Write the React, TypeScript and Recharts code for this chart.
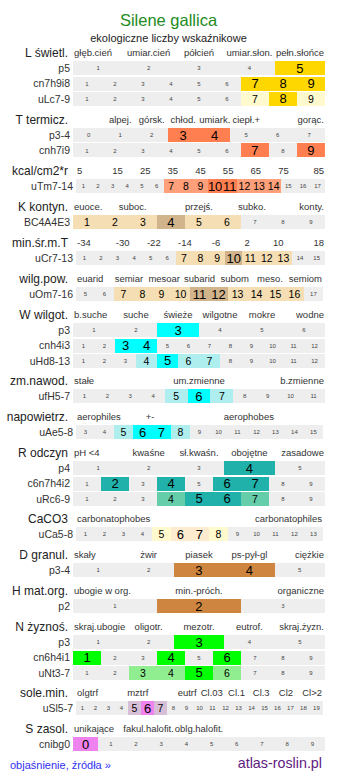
import React from 'react';
import { BarChart, Bar, XAxis, YAxis } from 'recharts';

// level per cell: 0 = not set, 1 = weaker, 2 = main value

// L - light
const lightHead = ['głęb.cień', 'umiar.cień', 'półcień', 'umiar.słon.', 'pełn.słońce'];
const lightRows = ['p5', 'cn7h9i8', 'uLc7-9'];
const lightFrom = [1, 1, 1];
const lightLevels = [
  [0, 0, 0, 0, 2],
  [0, 0, 0, 0, 0, 0, 2, 2, 2],
  [0, 0, 0, 0, 0, 0, 1, 2, 1],
];

// T - temperature
const tempHead = ['', 'alpej.', 'górsk.', 'chłod.', 'umiark.', 'ciepł.+', '', 'gorąc.'];
const tempRows = ['p3-4', 'cnh7i9'];
const tempFrom = [0, 1];
const tempLevels = [
  [0, 0, 0, 2, 2, 0, 0, 0],
  [0, 0, 0, 0, 0, 0, 2, 0, 2],
];

// radiation
const kcalHead = ['5', '15', '25', '35', '45', '55', '65', '75', '85'];
const kcalRows = ['uTm7-14'];
const kcalFrom = [1];
const kcalLevels = [[0, 0, 0, 0, 0, 0, 1, 1, 1, 2, 2, 1, 1, 1, 0, 0, 0]];

// K - continentality
const contHead = ['euoce.', '', '', '', 'suboc.', '', '', '', '', 'przejś.', '', '', '', 'subko.', '', '', '', '', 'konty.'];
const contRows = ['BC4A4E3'];
const contFrom = [1];
const contLevels = [[1, 1, 1, 2, 1, 1, 0, 0, 0]];

// min. mean temperature
const minTHead = ['-34', '-30', '-22', '-14', '-6', '2', '10', '18'];
const minTRows = ['uCr7-13'];
const minTFrom = [1];
const minTLevels = [[0, 0, 0, 0, 0, 0, 1, 1, 1, 2, 1, 1, 1, 0, 0]];

// air humidity
const airHead = ['euarid', 'semiar', 'mesoar', 'subarid', 'subom', 'meso.', 'semiom'];
const airRows = ['uOm7-16'];
const airFrom = [5];
const airLevels = [[0, 0, 1, 1, 1, 1, 2, 2, 1, 1, 1, 1, 0]];

// W - moisture
const wetHead = ['b.suche', 'suche', 'świeże', 'wilgotne', 'mokre', 'wodne'];
const wetRows = ['p3', 'cnh4i3', 'uHd8-13'];
const wetFrom = [1, 1, 1];
const wetLevels = [
  [0, 0, 2, 0, 0, 0],
  [0, 0, 2, 2, 0, 0, 0, 0, 0, 0, 0, 0],
  [0, 0, 0, 1, 2, 1, 1, 0, 0, 0, 0, 0],
];

// moisture variability
const varHead = ['stałe', 'um.zmienne', 'b.zmienne'];
const varRows = ['ufH5-7'];
const varFrom = [1];
const varLevels = [[0, 0, 0, 0, 1, 2, 1, 0, 0, 0, 0]];

// aeration
const aerHead = ['aerophiles', '+-', '', 'aerophobes', ''];
const aerRows = ['uAe5-8'];
const aerFrom = [3];
const aerLevels = [[0, 0, 1, 2, 2, 1, 0, 0, 0, 0, 0, 0, 0]];

// R - soil reaction
const phHead = ['pH <4', 'kwaśne', 'sł.kwaśn.', 'obojętne', 'zasadowe'];
const phRows = ['p4', 'c6n7h4i2', 'uRc6-9'];
const phFrom = [1, 1, 1];
const phLevels = [
  [0, 0, 0, 2, 0],
  [0, 2, 0, 2, 0, 2, 2, 0, 0],
  [0, 0, 0, 1, 2, 2, 1, 0, 0],
];

// CaCO3
const caHead = ['carbonatophobes', 'carbonatophiles'];
const caRows = ['uCa5-8'];
const caFrom = [1];
const caLevels = [[0, 0, 0, 0, 1, 2, 2, 1, 0, 0, 0, 0, 0]];

// D - granulation
const grainHead = ['skały', 'żwir', 'piasek', 'ps-pył-gl', 'ciężkie'];
const grainRows = ['p3-4'];
const grainFrom = [1];
const grainLevels = [[0, 0, 2, 2, 0]];

// H - organic matter
const orgHead = ['ubogie w org.', 'min.-próch.', 'organiczne'];
const orgRows = ['p2'];
const orgFrom = [1];
const orgLevels = [[0, 2, 0]];

// N - fertility
const fertHead = ['skraj.ubogie', 'oligotr.', 'mezotr.', 'eutrof.', 'skraj.żyzn.'];
const fertRows = ['p3', 'cn6h4i1', 'uNt3-7'];
const fertFrom = [1, 1, 1];
const fertLevels = [
  [0, 0, 2, 0, 0],
  [2, 0, 0, 2, 0, 2, 0, 0, 0],
  [0, 0, 1, 1, 2, 1, 0, 0, 0],
];

// mineral salts
const saltHead = ['olgtrf', '', 'mztrf', '', 'eutrf', 'Cl.03', 'Cl.1', 'Cl.3', 'Cl2', 'Cl>2'];
const saltRows = ['uSl5-7'];
const saltFrom = [1];
const saltLevels = [[0, 0, 0, 0, 1, 2, 1, 0, 0, 0, 0, 0, 0, 0, 0, 0, 0, 0, 0]];

// S - salinity
const salHead = ['unikające', 'fakul.halofit.', 'oblg.halofit.', '', ''];
const salRows = ['cnibg0'];
const salFrom = [0];
const salLevels = [[2, 0, 0, 0, 0, 0, 0, 0, 0, 0]];

const PITCH = 15.3;
const HEAD = 20.6;
const LIFT = 7.85;
const FONT = '"Liberation Sans", Arial, sans-serif';

type Section = {
  name: string;
  head: string[];
  rows: string[];
  from: number[];
  levels: number[][];
  fill: string[];
  left: number;
  right: number;
};

const sections: Section[] = [
  { name: 'L świetl.', head: lightHead, rows: lightRows, from: lightFrom, levels: lightLevels, fill: ['#FFFACD', '#FFD700'], left: 73, right: 325 },
  { name: 'T termicz.', head: tempHead, rows: tempRows, from: tempFrom, levels: tempLevels, fill: ['#FFA07A', '#FF7F50'], left: 73, right: 325 },
  { name: 'kcal/cm2*r', head: kcalHead, rows: kcalRows, from: kcalFrom, levels: kcalLevels, fill: ['#FFA07A', '#FF7F50'], left: 76, right: 325 },
  { name: 'K kontyn.', head: contHead, rows: contRows, from: contFrom, levels: contLevels, fill: ['#F5DEB3', '#D2B48C'], left: 73, right: 325 },
  { name: 'min.śr.m.T', head: minTHead, rows: minTRows, from: minTFrom, levels: minTLevels, fill: ['#F5DEB3', '#D2B48C'], left: 76, right: 325 },
  { name: 'wilg.pow.', head: airHead, rows: airRows, from: airFrom, levels: airLevels, fill: ['#F5DEB3', '#D2B48C'], left: 76, right: 323 },
  { name: 'W wilgot.', head: wetHead, rows: wetRows, from: wetFrom, levels: wetLevels, fill: ['#AFEEEE', '#00FFFF'], left: 73, right: 325 },
  { name: 'zm.nawod.', head: varHead, rows: varRows, from: varFrom, levels: varLevels, fill: ['#AFEEEE', '#00FFFF'], left: 73, right: 325 },
  { name: 'napowietrz.', head: aerHead, rows: aerRows, from: aerFrom, levels: aerLevels, fill: ['#AFEEEE', '#00FFFF'], left: 76, right: 323 },
  { name: 'R odczyn', head: phHead, rows: phRows, from: phFrom, levels: phLevels, fill: ['#66CDAA', '#20B2AA'], left: 73, right: 325 },
  { name: 'CaCO3', head: caHead, rows: caRows, from: caFrom, levels: caLevels, fill: ['#FFFACD', '#FDEBD0'], left: 76, right: 323 },
  { name: 'D granul.', head: grainHead, rows: grainRows, from: grainFrom, levels: grainLevels, fill: ['#DEB887', '#CD853F'], left: 73, right: 325 },
  { name: 'H mat.org.', head: orgHead, rows: orgRows, from: orgFrom, levels: orgLevels, fill: ['#DEB887', '#CD853F'], left: 73, right: 325 },
  { name: 'N żyznoś.', head: fertHead, rows: fertRows, from: fertFrom, levels: fertLevels, fill: ['#90EE90', '#00FF00'], left: 73, right: 325 },
  { name: 'sole.min.', head: saltHead, rows: saltRows, from: saltFrom, levels: saltLevels, fill: ['#D8BFD8', '#EE82EE'], left: 76, right: 323 },
  { name: 'S zasol.', head: salHead, rows: salRows, from: salFrom, levels: salLevels, fill: ['#D8BFD8', '#EE82EE'], left: 73, right: 325 },
];

function Strip({ s }: { s: Section }) {
  const maxCells = Math.max(...s.levels.map((l) => l.length));
  const data = s.rows.map((name, ri) => {
    const row: any = { name, ri };
    const n = s.levels[ri].length;
    for (let i = 0; i < maxCells; i++) row[`c${i}`] = i < n ? 1 / n : 0;
    return row;
  });
  const n = s.head.length;
  const colW = (s.right - s.left) / n;
  const ticks = s.head.map((_, j) => (j + 0.5) / n);

  const headTick = (p: any) => {
    const j = Math.round(p.payload.value * n - 0.5);
    const label = s.head[j];
    if (!label) return <g />;
    const anchor = j === 0 ? 'start' : j === n - 1 ? 'end' : 'middle';
    const tx = j === 0 ? p.x - colW / 2 + 1 : j === n - 1 ? p.x + colW / 2 - 1 : p.x;
    return (
      <text x={tx} y={p.y - LIFT} dy="0.36em" textAnchor={anchor} fontSize={9.5} fill="#333">
        {label}
      </text>
    );
  };

  const sectionLabel = (p: any) => {
    const vb = p.viewBox || {};
    return (
      <text x={vb.x - (s.left - 68)} y={vb.y + vb.height - LIFT} dy="0.36em" textAnchor="end" fontSize={12} fill="#222">
        {s.name}
      </text>
    );
  };

  const cellShape = (i: number) => (p: any) => {
    const ri = p.payload ? p.payload.ri : p.index;
    const lv = s.levels[ri];
    if (!lv || i >= lv.length || !(p.width > 0)) return <g />;
    const level = lv[i];
    const fill = level === 0 ? '#EEEEEE' : s.fill[level - 1];
    const fs = level === 2 ? 13 : level === 1 ? 10.5 : 6;
    return (
      <g>
        <rect x={p.x} y={p.y} width={p.width} height={p.height} fill={fill} shapeRendering="crispEdges" />
        <text
          x={p.x + p.width / 2}
          y={p.y + p.height / 2}
          dy="0.36em"
          textAnchor="middle"
          fontSize={fs}
          fill={level ? '#000' : '#444'}
        >
          {s.from[ri] + i}
        </text>
      </g>
    );
  };

  return (
    <BarChart
      layout="vertical"
      width={337}
      height={HEAD + PITCH * s.rows.length}
      data={data}
      margin={{ top: 0, right: 337 - s.right, bottom: 0, left: 0 }}
      barCategoryGap={0.6}
    >
      <XAxis
        type="number"
        orientation="top"
        domain={[0, 1]}
        allowDataOverflow
        ticks={ticks}
        interval={0}
        tick={headTick}
        tickLine={false}
        axisLine={false}
        tickSize={0}
        tickMargin={0}
        height={HEAD}
        label={sectionLabel}
      />
      <YAxis
        type="category"
        dataKey="name"
        width={s.left}
        tickLine={false}
        axisLine={false}
        tickSize={0}
        tickMargin={3}
        interval={0}
        tick={{ fontSize: 10.5, fill: '#333' }}
      />
      {Array.from({ length: maxCells }, (_, i) => (
        <Bar key={i} dataKey={`c${i}`} stackId="row" isAnimationActive={false} shape={cellShape(i)} />
      ))}
    </BarChart>
  );
}

export default function App() {
  return (
    <div
      style={{
        position: 'absolute',
        left: 0,
        top: 0,
        width: 337,
        height: 781,
        background: '#fff',
        fontFamily: FONT,
        overflow: 'hidden',
      }}
    >
      <div style={{ position: 'absolute', top: 10, width: 337, lineHeight: '20px', textAlign: 'center', fontSize: 16.5, color: '#228B22' }}>
        Silene gallica
      </div>
      <div style={{ position: 'absolute', top: 31, width: 337, lineHeight: '14px', textAlign: 'center', fontSize: 11, color: '#222' }}>
        ekologiczne liczby wskaźnikowe
      </div>
      <div style={{ position: 'absolute', top: 40.26, left: 0, width: 337 }}>
        {sections.map((s) => (
          <Strip key={s.name} s={s} />
        ))}
      </div>
      <div style={{ position: 'absolute', top: 758, left: 10, lineHeight: '14px', fontSize: 11, color: '#3030F0' }}>
        objaśnienie, źródła »
      </div>
      <div style={{ position: 'absolute', top: 754, right: 15, lineHeight: '18px', fontSize: 14.3, color: '#602080' }}>
        atlas-roslin.pl
      </div>
    </div>
  );
}
